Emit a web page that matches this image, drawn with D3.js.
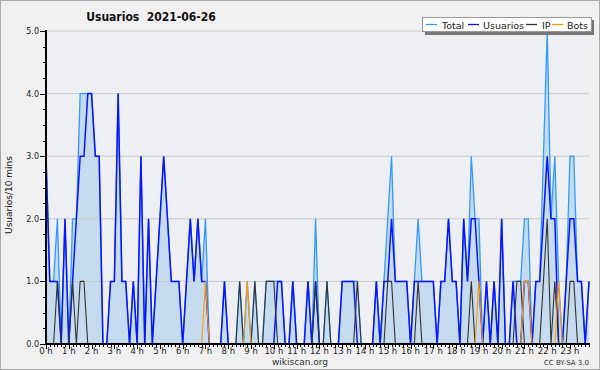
<!DOCTYPE html>
<html><head><meta charset="utf-8">
<script src="https://cdn.jsdelivr.net/npm/d3@7"></script>
<style>body{margin:0;background:#f0f0f0}svg{display:block}</style>
</head><body>
<svg id="c" width="600" height="370"></svg>
<script>
const title = "Usuarios  2021-06-26";
const yLabel = "Usuarios/10 mins";
const seriesNames = ["Total", "Usuarios", "IP", "Bots"];
const hourLabels = d3.range(24).map(h => h + " h");
const yTicks = [0, 1, 2, 3, 4, 5];

const total = [
3,1,1,2,0,2,0,2,2,4, 4,4,4,3,3,0,0,1,1,4, 1,1,0,1,0,3,0,2,0,1, 2,3,2,1,1,1,
0,1,2,1,2,1,2,0,0,0, 0,1,0,0,0,1,0,1,0,1, 0,0,1,1,1,1,1,0,0,1, 0,0,0,1,0,2,
0,0,1,0,0,0,1,1,1,1, 1,0,0,0,0,1,0,1,2,3, 1,1,1,1,0,1,2,1,1,1, 1,0,1,1,2,1,
1,0,2,1,3,2,2,0,1,0, 1,0,2,0,0,1,1,1,2,2, 0,1,1,3,5,2,3,1,0,1, 3,3,1,1,0,1];
const usuarios = [
3,1,1,1,0,2,0,1,2,3, 3,4,4,3,3,0,0,1,1,4, 1,1,0,1,0,3,0,2,0,1, 2,3,2,1,1,1,
0,1,2,1,2,1,1,0,0,0, 0,1,0,0,0,0,0,0,0,0, 0,0,0,0,0,1,1,0,0,1, 0,0,0,1,0,1,
0,0,0,0,0,0,1,1,1,1, 0,0,0,0,0,1,0,1,1,2, 1,1,1,1,0,1,1,1,1,1, 1,0,1,1,2,1,
1,0,2,1,2,2,1,0,1,0, 1,0,2,0,0,1,0,0,1,1, 0,1,1,2,3,2,2,0,0,1, 2,2,1,1,0,1];
const ip = [
0,0,0,1,0,0,0,1,0,1, 1,0,0,0,0,0,0,0,0,0, 0,0,0,0,0,0,0,0,0,0, 0,0,0,0,0,0,
0,0,0,0,0,0,0,0,0,0, 0,0,0,0,0,1,0,0,0,1, 0,0,1,1,1,0,0,0,0,0, 0,0,0,0,0,1,
0,0,1,0,0,0,0,0,0,0, 1,0,0,0,0,0,0,0,1,1, 0,0,0,0,0,0,1,0,0,0, 0,0,0,0,0,0,
0,0,0,0,1,0,0,0,0,0, 0,0,0,0,0,0,1,1,0,0, 0,0,0,1,2,0,1,0,0,0, 1,1,0,0,0,0];
const bots = [
0,0,0,0,0,0,0,0,0,0, 0,0,0,0,0,0,0,0,0,0, 0,0,0,0,0,0,0,0,0,0, 0,0,0,0,0,0,
0,0,0,0,0,0,1,0,0,0, 0,0,0,0,0,0,0,1,0,0, 0,0,0,0,0,0,0,0,0,0, 0,0,0,0,0,0,
0,0,0,0,0,0,0,0,0,0, 0,0,0,0,0,0,0,0,0,0, 0,0,0,0,0,0,0,0,0,0, 0,0,0,0,0,0,
0,0,0,0,0,0,1,0,0,0, 0,0,0,0,0,0,0,0,1,1, 0,0,0,0,0,0,0,1,0,0, 0,0,0,0,0,0];

const colors = {Total:"#3399ff", Usuarios:"#0a14ff", IP:"#333333", Bots:"#ff9900"};
const svg = d3.select("#c");
const W = 600, H = 370;
svg.append("rect").attr("x",0.5).attr("y",0.5).attr("width",W-1).attr("height",H-1)
  .attr("fill","#f0f0f0").attr("stroke","#a8a8a8");

const x = d3.scaleLinear().domain([0,144]).range([46, 592.8]);
const y = d3.scaleLinear().domain([0,5]).range([344, 31]);
const xEnd = x(143);

svg.append("rect").attr("x",46).attr("y",31).attr("width",xEnd-46).attr("height",313).attr("fill","#edeff2");

// area
svg.append("path").datum(total)
  .attr("d", d3.area().x((d,i)=>x(i)).y0(y(0)).y1(d=>y(d)))
  .attr("fill","#c5dcf0");

// grid
svg.append("g").selectAll("line").data(yTicks.slice(1)).join("line")
  .attr("x1",46).attr("x2",xEnd).attr("y1",d=>y(d)).attr("y2",d=>y(d))
  .attr("stroke","#cccccc").attr("stroke-width",1);

const line = d3.line().x((d,i)=>x(i)).y(d=>y(d));
const drawLine = (data, col, w) => svg.append("path").datum(data).attr("d", line)
  .attr("fill","none").attr("stroke",col).attr("stroke-width",w).attr("stroke-linejoin","miter");
drawLine(total, colors.Total, 1.3);
drawLine(usuarios, colors.Usuarios, 1.5);
drawLine(ip, colors.IP, 1.1);
drawLine(bots, colors.Bots, 1.1);

// y axis
const yAxis = svg.append("g");
yAxis.append("line").attr("x1",46).attr("x2",46).attr("y1",30).attr("y2",345).attr("stroke","#000").attr("stroke-width",2);
yAxis.selectAll(".mn").data(d3.range(0,5.001,0.25)).join("line")
  .attr("x1",d=> Number.isInteger(d)?40:43).attr("x2",46).attr("y1",d=>Math.round(y(d))+0.5).attr("y2",d=>Math.round(y(d))+0.5)
  .attr("stroke","#000").attr("stroke-width",1);
yAxis.selectAll("text").data(yTicks).join("text")
  .attr("x",39).attr("y",d=>y(d)+3).attr("text-anchor","end")
  .attr("font-family","DejaVu Sans").attr("font-size",8).attr("fill","#222")
  .text(d=>d3.format(".1f")(d));

// x axis
const xAxis = svg.append("g");
xAxis.append("line").attr("x1",45).attr("x2",xEnd+1).attr("y1",344).attr("y2",344).attr("stroke","#000").attr("stroke-width",2);
xAxis.selectAll(".t").data(d3.range(0,144)).join("line")
  .attr("x1",d=>Math.round(x(d))+0.5).attr("x2",d=>Math.round(x(d))+0.5)
  .attr("y1",344).attr("y2",d=> d%6===0?349:347)
  .attr("stroke","#000").attr("stroke-width",1);
xAxis.selectAll("text").data(hourLabels).join("text")
  .attr("x",(d,i)=>x(i*6)).attr("y",354).attr("text-anchor","middle")
  .attr("font-family","DejaVu Sans").attr("font-size",8.5).attr("fill","#222")
  .text(d=>d);

// titles
svg.append("text").attr("x",151).attr("y",21).attr("text-anchor","middle")
  .attr("font-family","DejaVu Sans Condensed, DejaVu Sans").attr("font-weight","bold").attr("font-size",12).attr("fill","#111")
  .attr("xml:space","preserve").style("white-space","pre").text(title);
svg.append("text").attr("transform","translate(12,195) rotate(-90)").attr("text-anchor","middle")
  .attr("font-family","DejaVu Sans").attr("font-size",9).attr("fill","#111").text(yLabel);
svg.append("text").attr("x",300).attr("y",365).attr("text-anchor","middle")
  .attr("font-family","DejaVu Sans").attr("font-size",9).attr("fill","#333").text("wikiscan.org");
svg.append("text").attr("x",589).attr("y",365).attr("text-anchor","end")
  .attr("font-family","DejaVu Sans").attr("font-size",7).attr("fill","#333").text("CC BY-SA 3.0");

// legend
const lg = svg.append("g");
lg.append("rect").attr("x",425).attr("y",20).attr("width",169).attr("height",15).attr("fill","#777");
lg.append("rect").attr("x",422.5).attr("y",17.5).attr("width",169).attr("height",14).attr("fill","#fff").attr("stroke","#999");
const lx = [426, 468, 526, 552];
const tx = [442, 483, 542, 567];
seriesNames.forEach((n,i)=>{
  lg.append("line").attr("x1",lx[i]).attr("x2",lx[i]+11).attr("y1",24.5).attr("y2",24.5).attr("stroke",colors[n]).attr("stroke-width",1.3);
  lg.append("text").attr("x",tx[i]).attr("y",28.5).attr("font-family","DejaVu Sans").attr("font-size",9.5).attr("fill","#222").text(n);
});
</script>
</body></html>
